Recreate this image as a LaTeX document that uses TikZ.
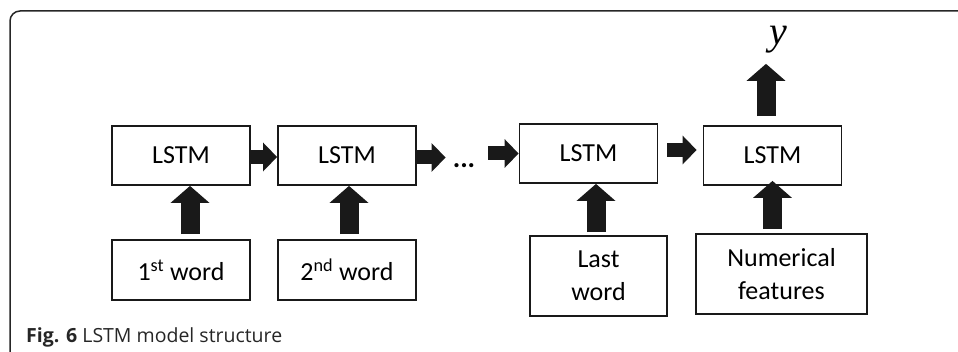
\documentclass[tikz,border=0pt]{standalone}
\usepackage{fontspec}
\setmainfont{Carlito}
\newfontfamily\capfont{Open Sans}
\newfontfamily\varfont{Liberation Serif}
\usetikzlibrary{arrows.meta}

\tikzset{
  cell/.style={draw=black!90, line width=1.8pt, minimum width=138pt, minimum height=59pt,
    font=\fontsize{26}{33}\selectfont, align=center, inner sep=0pt},
  varrow/.style={draw=black!90, line width=19pt, -{Triangle[width=38pt,length=17pt]}},
  harrow/.style={draw=black!90, line width=14pt, -{Triangle[width=28pt,length=14pt]}}
}

\begin{document}
\begin{tikzpicture}[x=1pt,y=-1pt]
        \useasboundingbox (0,0) rectangle (958,352);
        % frame
        \draw[black!85, line width=1.5pt, rounded corners=10pt] (10,370) -- (10,11) -- (975,11);
        \begin{scope}
            \begin{scope}[every node/.style={cell}]
              \node (l1) at (181,155.5) {LSTM};
              \node (l2) at (347,155.5) {LSTM};
              \node (l3) at (588.5,153.5) {LSTM};
              \node (l4) at (772.5,155.5) {LSTM};
              \node[minimum height=60pt] (w1) at (181,270) {1\textsuperscript{st} word};
              \node[minimum height=60pt] (w2) at (347,270) {2\textsuperscript{nd} word};
              \node[minimum width=137pt, minimum height=80pt] (w3) at (598.5,276) {Last\\word};
              \node[minimum width=171pt, minimum height=80pt] (w4) at (781.5,274) {Numerical\\features};
            \end{scope}
            \node[font=\fontsize{28}{30}\selectfont\bfseries, inner sep=0pt, anchor=base] (dots) at (464,168) {...};
            \node[font=\varfont\itshape\fontsize{40}{40}\selectfont, inner sep=0pt, anchor=base] (out) at (778,45) {y};
            % horizontal links
            \draw[harrow] ([yshift=-1.5pt]l1.east) -- ([yshift=-1.5pt]l2.west);
            \draw[harrow] ([yshift=-2pt]l2.east) -- ([xshift=-7pt,yshift=-2pt]dots.west |- l2.east);
            \draw[harrow] ([xshift=13pt]dots.east |- l3.west) -- (l3.west);
            \draw[harrow, shorten <=9pt, shorten >=6pt] ([yshift=3.5pt]l3.east) -- ([yshift=3.5pt]l3.east -| l4.west);
            % inputs
            \draw[varrow, shorten <=5pt] ([xshift=9pt]w1.north) -- ([xshift=9pt]l1.south);
            \draw[varrow, shorten <=5pt] ([xshift=2pt]w2.north) -- ([xshift=2pt]l2.south);
            \draw[varrow, shorten <=3pt] ([xshift=-2.5pt]w3.north) -- ([xshift=-2.5pt]w3.north |- l3.south);
            \draw[varrow, shorten <=4pt, shorten >=-5pt] (w4.north -| l4) -- (l4.south);
            % output
            \draw[varrow, shorten <=9pt, shorten >=10pt] ([xshift=-6.5pt]l4.north) -- ([xshift=-6.5pt]l4.north |- out.south);
        \end{scope}
        % caption
        \node[anchor=base west, inner sep=0pt, text=black!85, font=\capfont\fontsize{19.5}{22}\selectfont] (cap) at (26,343)
          {\textbf{Fig. 6} LSTM model structure};
    \end{tikzpicture}
\end{document}
